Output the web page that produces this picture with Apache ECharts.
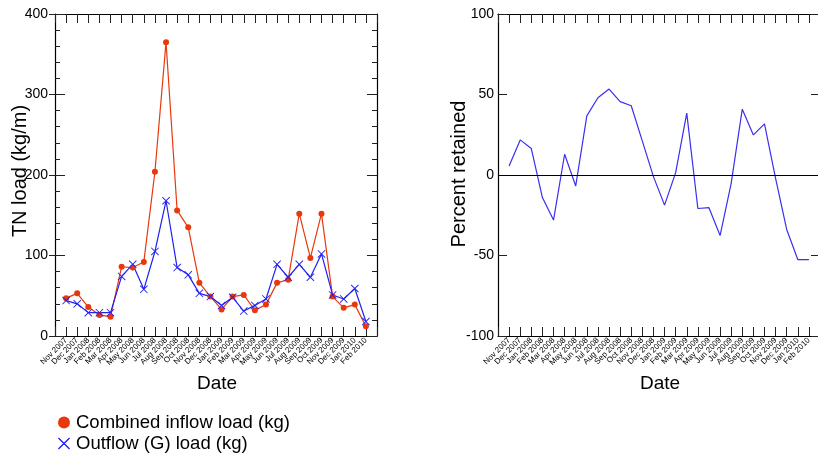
<!DOCTYPE html>
<html><head><meta charset="utf-8">
<script src="https://cdn.jsdelivr.net/npm/echarts@6/dist/echarts.min.js"></script>
<style>html,body{margin:0;padding:0;background:#fff}#c{width:818px;height:460px}</style>
</head><body><div id="c"></div>
<script>
const categories = ['Nov 2007','Dec 2007','Jan 2008','Feb 2008','Mar 2008','Apr 2008','May 2008','Jun 2008','Jul 2008','Aug 2008','Sep 2008','Oct 2008','Nov 2008','Dec 2008','Jan 2009','Feb 2009','Mar 2009','Apr 2009','May 2009','Jun 2009','Jul 2009','Aug 2009','Sep 2009','Oct 2009','Nov 2009','Dec 2009','Jan 2010','Feb 2010'];
const inflowLoad = [47,53,36,26,24,86,85,92,204,365,156,135,66,49,33,49,51,32,39,66,70,152,97,152,49,35,39,12];
const outflowLoad = [44,40,29,29,29,74,89,58,105,168,85,76,53,49,38,48,31,38,46,89,73,89,73,102,51,46,59,18];
const percentRetained = [5.6,21.8,16.4,-14,-28,12.9,-6.8,36.7,48,53.4,45.6,43,21,-1,-18.7,1.5,38.4,-20.8,-20.3,-37.6,-5.2,40.9,24.9,31.8,-2.1,-33.8,-52.5,-52.5];
const leftTicks = [0,100,200,300,400];
const rightTicks = [-100,-50,0,50,100];

const RED = '#e8380d', BLUE = '#2020f0', LBLUE = '#3a2ff0';
const FONT = 'Liberation Sans';
const X_ICON = 'path://M0,0.8 L0.8,0 L10,9.2 L9.2,10 Z M9.2,0 L10,0.8 L0.8,10 L0,9.2 Z';
const pairs = a => a.map((v,i)=>[i,v]);

function xAx(grid, pos, labels){
  return {type:'value', gridIndex:grid, position:pos, min:-1, max:categories.length, interval:1,
    axisLine:{show:true, onZero:false, lineStyle:{color:'#000', width:1.2}},
    axisTick:{show:true, inside:true, length:9, lineStyle:{color:'#222', width:1}},
    splitLine:{show:false},
    axisLabel:{show:labels, rotate:45, fontSize:8, fontFamily:FONT, color:'#000', margin:3,
      formatter: v => categories[v] || ''}};
}
function yAx(grid, pos, min, max, interval, opts){
  return Object.assign({type:'value', gridIndex:grid, position:pos, min:min, max:max, interval:interval,
    axisLine:{show:false, onZero:false, lineStyle:{color:'#000', width:1.2}},
    axisTick:{show:true, inside:true, length:5, lineStyle:{color:'#222', width:1}},
    splitLine:{show:false},
    axisLabel:{show:false}}, opts||{});
}
const lMin = leftTicks[0], lMax = leftTicks[leftTicks.length-1];
const rMin = rightTicks[0], rMax = rightTicks[rightTicks.length-1];
const shownLine = {show:true, onZero:false, lineStyle:{color:'#000', width:1.2}};

const option = {
  animation:false,
  grid:[{left:55, top:14, width:322, height:322, outerBoundsMode:'none'},
        {left:498, top:14, width:322, height:322, outerBoundsMode:'none'}],
  xAxis:[xAx(0,'bottom',true), xAx(0,'top',false), xAx(1,'bottom',true), xAx(1,'top',false)],
  yAxis:[
    yAx(0,'left',lMin,lMax,100,{axisLine:shownLine,
      axisTick:{show:true,inside:false,length:6,lineStyle:{color:'#222'}},
      axisLabel:{show:true,fontSize:14,fontFamily:FONT,color:'#000',margin:7}}),
    yAx(0,'left',lMin,lMax,20),
    yAx(0,'left',lMin,lMax,100,{axisTick:{show:true,inside:true,length:10,lineStyle:{color:'#222'}}}),
    yAx(0,'right',lMin,lMax,20,{axisLine:shownLine}),
    yAx(0,'right',lMin,lMax,100,{axisTick:{show:true,inside:true,length:10,lineStyle:{color:'#222'}}}),
    yAx(1,'left',rMin,rMax,50,{axisLine:shownLine,
      axisTick:{show:true,inside:true,length:9,lineStyle:{color:'#222'}},
      axisLabel:{show:true,fontSize:14,fontFamily:FONT,color:'#000',margin:4}}),
    yAx(1,'right',rMin,rMax,50,{axisLine:shownLine,
      axisTick:{show:true,inside:true,length:9,lineStyle:{color:'#222'}}})
  ],
  legend:{left:53, top:408, orient:'vertical', itemGap:2, itemWidth:12, itemHeight:12,
    textStyle:{fontSize:18.5, fontFamily:FONT, color:'#000', lineHeight:19, padding:[0,0,0,1]},
    data:[{name:'Combined inflow load (kg)', icon:'circle', itemStyle:{color:RED}},
          {name:'Outflow (G) load (kg)', icon:X_ICON, itemStyle:{color:BLUE}}]},
  series:[
    {name:'Combined inflow load (kg)', type:'line', xAxisIndex:0, yAxisIndex:0, data:pairs(inflowLoad),
      symbol:'circle', symbolSize:6, itemStyle:{color:RED}, lineStyle:{color:RED, width:1.2}},
    {name:'Outflow (G) load (kg)', type:'line', xAxisIndex:0, yAxisIndex:0, data:pairs(outflowLoad),
      symbol:X_ICON, symbolSize:8, itemStyle:{color:BLUE}, lineStyle:{color:BLUE, width:1.2}},
    {name:'Percent retained', type:'line', xAxisIndex:2, yAxisIndex:5, data:pairs(percentRetained),
      symbol:'none', lineStyle:{color:LBLUE, width:1.2},
      markLine:{silent:true, symbol:'none', label:{show:false}, lineStyle:{color:'#000', width:1.2, type:'solid'},
        data:[{yAxis:0}]}}
  ],
  graphic:[
    {type:'text', x:20, y:171, rotation:Math.PI/2, style:{text:'TN load (kg/m)', font:'20px "Liberation Sans"', fill:'#000', align:'center', verticalAlign:'middle'}},
    {type:'text', x:459, y:174, rotation:Math.PI/2, style:{text:'Percent retained', font:'20px "Liberation Sans"', fill:'#000', align:'center', verticalAlign:'middle'}},
    {type:'text', x:217, y:384, style:{text:'Date', font:'19px "Liberation Sans"', fill:'#000', align:'center', verticalAlign:'middle'}},
    {type:'text', x:660, y:384, style:{text:'Date', font:'19px "Liberation Sans"', fill:'#000', align:'center', verticalAlign:'middle'}}
  ]
};
echarts.init(document.getElementById('c')).setOption(option);
</script></body></html>
